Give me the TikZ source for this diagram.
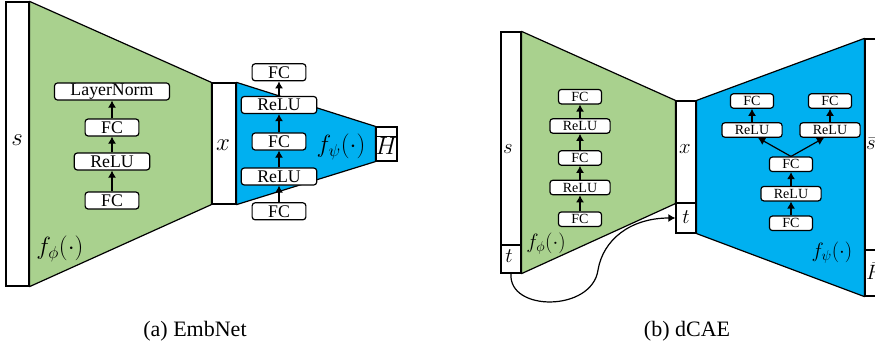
\documentclass[tikz,border=0pt]{standalone}
\usepackage{fontspec}
\setmainfont{Liberation Serif}
\newfontfamily\tnr{Liberation Serif}
\usetikzlibrary{arrows.meta}
\definecolor{cgreen}{RGB}{169,209,142}
\definecolor{cblue}{RGB}{0,176,240}
\tikzset{
  lay/.style={draw, line width=1.2pt, fill=white, rounded corners=3pt, inner ysep=0pt},
  abox/.style={lay, font=\tnr\fontsize{17.8}{17.8}\selectfont, minimum height=17pt, inner xsep=16pt},
  bbox/.style={lay, font=\tnr\fontsize{14}{14}\selectfont, minimum height=14.5pt, inner xsep=13pt},
  vec/.style={draw, line width=1.2pt, fill=white, inner sep=0pt},
  arr/.style={-{Latex[length=7pt,width=8pt]}, line width=1.2pt},
  mlab/.style={inner sep=0pt},
  trap/.style={draw, line width=1.2pt, line join=round},
  captext/.style={inner sep=0pt, font=\tnr\fontsize{22}{22}\selectfont},
}
\begin{document}
\begin{tikzpicture}[x=1pt,y=-1pt]
\useasboundingbox (0,0) rectangle (875,345);
\clip (0,0) rectangle (875,345);
% ---------------- panel (a) ----------------
\node[vec, minimum width=23pt, minimum height=284pt] (sa) at (17.5,144) {};
\node[vec, minimum width=24pt, minimum height=121pt] (xa) at (224,143.5) {};
\node[vec, minimum width=21pt, minimum height=34pt] (ha) at (386.5,144) {};
\filldraw[trap, fill=cgreen] (sa.north east) -- (xa.north west) -- (xa.south west) -- (sa.south east) -- cycle;
\filldraw[trap, fill=cblue] (xa.north east) -- (ha.north west) -- (ha.south west) -- (xa.south east) -- cycle;
\node[vec, minimum width=23pt, minimum height=284pt] at (sa) {};
\node[vec, minimum width=24pt, minimum height=121pt] at (xa) {};
\node[vec, minimum width=21pt, minimum height=34pt] at (ha) {};
\node[mlab, font=\fontsize{29}{29}\selectfont] (sal) at (17,140) {$s$};
\node[mlab, font=\fontsize{29}{29}\selectfont] (xal) at (223,145) {$x$};
\node[mlab, font=\fontsize{23}{23}\selectfont] (hal) at (386.5,145) {$\overline{H}$};
\node[mlab, font=\fontsize{26}{26}\selectfont] (fpa) at (60,249) {$f_\phi(\cdot)$};
\node[mlab, font=\fontsize{26}{26}\selectfont] (fsa) at (341,147) {$f_\psi(\cdot)$};
% green stack
\node[abox] (a1) at (112,200.5) {FC};
\node[abox] (a2) at (112,161.5) {ReLU};
\node[abox] (a3) at (112,127.5) {FC};
\node[abox] (a4) at (112,91.5) {LayerNorm};
\draw[arr] (a1) -- (a2);
\draw[arr] (a2) -- (a3);
\draw[arr] (a3) -- (a4);
% blue stack
\node[abox] (d1) at (279,211.3) {FC};
\node[abox] (d2) at (279,176.5) {ReLU};
\node[abox] (d3) at (279,141.5) {FC};
\node[abox] (d4) at (279,105) {ReLU};
\node[abox] (d5) at (279,72.3) {FC};
\draw[arr] (d1) -- (d2);
\draw[arr] (d2) -- (d3);
\draw[arr] (d3) -- (d4);
\draw[arr] (d4) -- (d5);
% ---------------- panel (b) ----------------
\node[vec, minimum width=20pt, minimum height=213pt] (sb) at (511,138.5) {};
\node[vec, minimum width=20pt, minimum height=28pt] (tb) at (511,259) {};
\node[vec, minimum width=20pt, minimum height=102pt] (xb) at (686,152) {};
\node[vec, minimum width=20pt, minimum height=30pt] (tx) at (686,218) {};
\node[vec, minimum width=22pt, minimum height=211pt] (rb) at (876,144.5) {};
\node[vec, minimum width=22pt, minimum height=46pt] (fb) at (876,273) {};
\filldraw[trap, fill=cgreen] (sb.north east) -- (xb.north west) -- (xb.south west) -- (tb.south east) -- cycle;
\filldraw[trap, fill=cblue] (xb.north east) -- (rb.north west) -- (fb.south west) -- (tx.south east) -- cycle;
\node[vec, minimum width=20pt, minimum height=213pt] at (sb) {};
\node[vec, minimum width=20pt, minimum height=28pt] at (tb) {};
\node[vec, minimum width=20pt, minimum height=102pt] at (xb) {};
\node[vec, minimum width=20pt, minimum height=30pt] at (tx) {};
\node[vec, minimum width=22pt, minimum height=211pt] at (rb) {};
\node[vec, minimum width=22pt, minimum height=46pt] at (fb) {};
\node[mlab, font=\fontsize{22}{22}\selectfont] (sbl) at (508,149) {$s$};
\node[mlab, font=\fontsize{22}{22}\selectfont] (tbl) at (509,256) {$t$};
\node[mlab, font=\fontsize{22}{22}\selectfont] (xbl) at (685,149) {$x$};
\node[mlab, font=\fontsize{22}{22}\selectfont] (txl) at (686,217) {$t$};
\node[mlab, font=\fontsize{22}{22}\selectfont, anchor=west] (rbl) at (866,144) {$\bar{s}$};
\node[mlab, font=\fontsize{22}{22}\selectfont, anchor=west] (fbl) at (866,271) {$\bar{F}$};
\node[mlab, font=\fontsize{22}{22}\selectfont] (fpb) at (546,244) {$f_\phi(\cdot)$};
\node[mlab, font=\fontsize{22}{22}\selectfont] (fsb) at (832,253) {$f_\psi(\cdot)$};
% green stack b
\node[bbox] (b1) at (580,219.2) {FC};
\node[bbox] (b2) at (580,187.5) {ReLU};
\node[bbox] (b3) at (580,158) {FC};
\node[bbox] (b4) at (580,126) {ReLU};
\node[bbox] (b5) at (580,96.7) {FC};
\draw[arr] (b1) -- (b2);
\draw[arr] (b2) -- (b3);
\draw[arr] (b3) -- (b4);
\draw[arr] (b4) -- (b5);
% blue stack b
\node[bbox] (c1) at (791,223.3) {FC};
\node[bbox] (c2) at (791,193.7) {ReLU};
\node[bbox] (c3) at (791,164.3) {FC};
\node[bbox] (l1) at (752,130) {ReLU};
\node[bbox] (l2) at (752,101) {FC};
\node[bbox] (r1) at (830,130) {ReLU};
\node[bbox] (r2) at (830,101) {FC};
\draw[arr] (c1) -- (c2);
\draw[arr] (c2) -- (c3);
\draw[arr] (c3.north) -- ([xshift=6pt]l1.south);
\draw[arr] (c3.north) -- ([xshift=-6pt]r1.south);
\draw[arr] (l1) -- (l2);
\draw[arr] (r1) -- (r2);
% skip connection of t
\draw[arr] (tb.south) .. controls (508,312) and (592,312) .. (598,270)
  .. controls (603,240) and (630,218) .. (tx.west);
% captions
\node[captext] (capa) at (195,331) {(a) EmbNet};
\node[captext] (capb) at (687,331) {(b) dCAE};
\end{tikzpicture}
\end{document}
